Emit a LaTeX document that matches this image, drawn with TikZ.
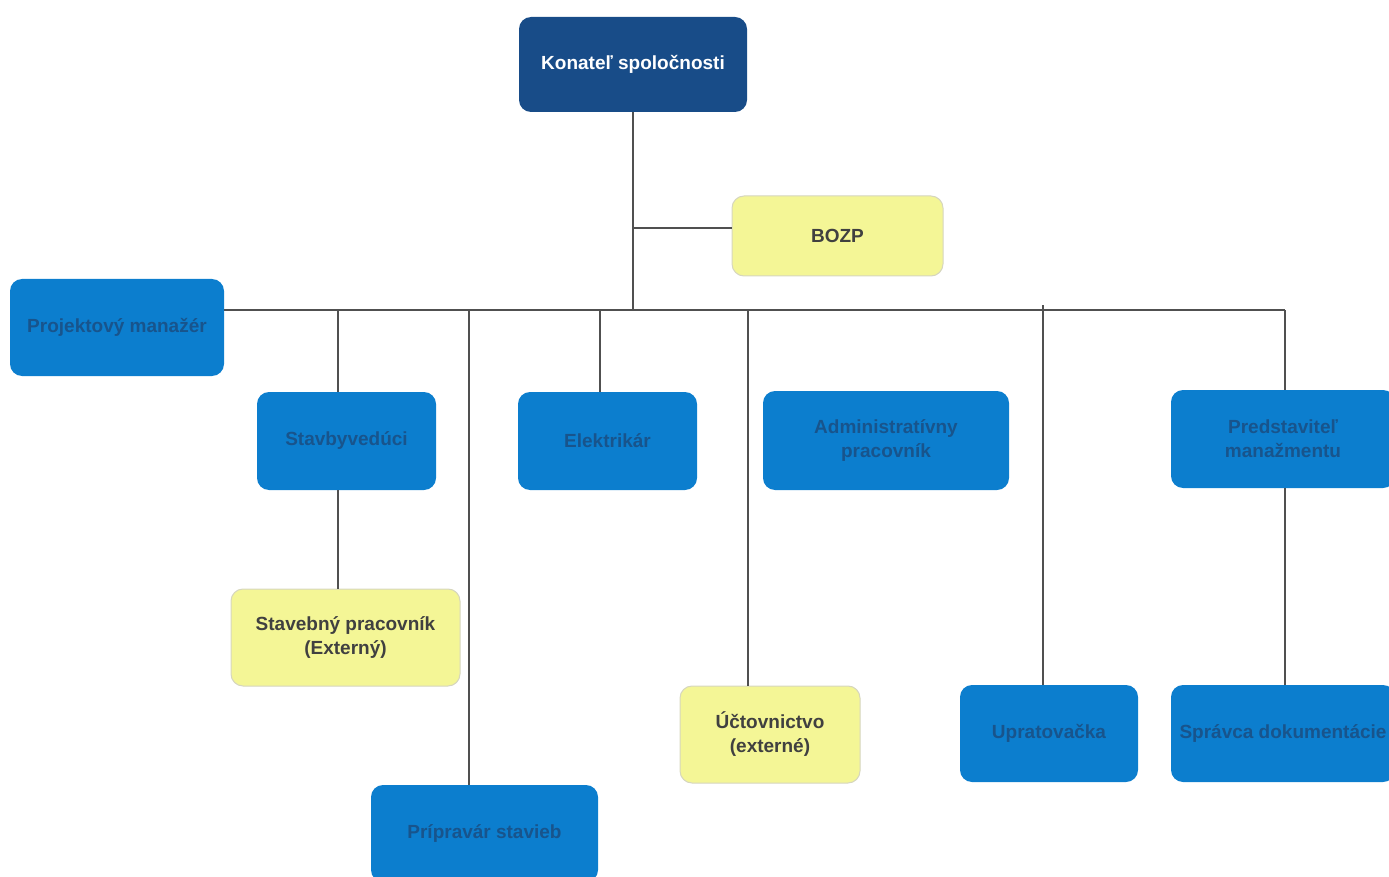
\documentclass[tikz,border=0pt]{standalone}
\usepackage{fontspec}
\setmainfont{Liberation Sans}
\definecolor{navy}{RGB}{24,76,136}
\definecolor{bluefill}{RGB}{12,126,206}
\definecolor{bluetext}{RGB}{24,84,140}
\definecolor{yellowfill}{RGB}{244,246,150}
\definecolor{yellowedge}{RGB}{214,214,190}
\definecolor{linegray}{RGB}{80,80,80}
\begin{document}
\begin{tikzpicture}[x=1pt,y=-1pt,
  base/.style={rounded corners=12pt, align=center, inner sep=2pt,
    font=\fontsize{19}{24}\selectfont\bfseries},
  topbox/.style={base, fill=navy, text=white},
  bluebox/.style={base, fill=bluefill, text=bluetext},
  yellowbox/.style={base, fill=yellowfill, draw=yellowedge, line width=1pt, text=black!75},
  conn/.style={draw=linegray, line width=1.3pt}]
\useasboundingbox (0,0) rectangle (1389,877);
\clip (0,0) rectangle (1389,877);
% nodes
\node[topbox, minimum width=228pt, minimum height=95pt] (k) at (633,64.5) {Konateľ spoločnosti};
\node[yellowbox, minimum width=211pt, minimum height=80pt] (bozp) at (837.5,236) {BOZP};
\node[bluebox, minimum width=214pt, minimum height=97pt] (pm) at (117,327.5) {Projektový manažér};
\node[bluebox, minimum width=179pt, minimum height=98pt] (sv) at (346.5,441) {Stavbyvedúci};
\node[bluebox, minimum width=179pt, minimum height=98pt] (el) at (607.5,441) {Elektrikár};
\node[bluebox, minimum width=246pt, minimum height=99pt] (ad) at (886,440.5) {Administratívny\\pracovník};
\node[bluebox, minimum width=224pt, minimum height=98pt] (pr) at (1283,439) {Predstaviteľ\\manažmentu};
\node[yellowbox, minimum width=229pt, minimum height=97pt] (sp) at (345.5,637.5) {Stavebný pracovník\\(Externý)};
\node[yellowbox, minimum width=180pt, minimum height=97pt] (uc) at (770,734.5) {Účtovnictvo\\(externé)};
\node[bluebox, minimum width=178pt, minimum height=97pt] (up) at (1049,733.5) {Upratovačka};
\node[bluebox, minimum width=224pt, minimum height=97pt] (sd) at (1283,733.5) {Správca dokumentácie};
\node[bluebox, minimum width=227pt, minimum height=97pt] (pp) at (484.5,833.5) {Prípravár stavieb};
% junction points
\coordinate (j) at (633,310);
\coordinate (b) at (633,228);
\coordinate (d1) at (338,310);
\coordinate (d2) at (469,310);
\coordinate (d3) at (600,310);
\coordinate (d4) at (748,310);
\coordinate (d5) at (1043,305);
\coordinate (d6) at (1285,310);
% connectors
\draw[conn] (k.south) -- (j);
\draw[conn] (b) -- (b -| bozp.west);
\draw[conn] (pm.east |- j) -- (d6);
\draw[conn] (d1) -- (d1 |- sv.north);
\draw[conn] (d1 |- sv.south) -- (d1 |- sp.north);
\draw[conn] (d2) -- (d2 |- pp.north);
\draw[conn] (d3) -- (d3 |- el.north);
\draw[conn] (d4) -- (d4 |- uc.north);
\draw[conn] (d5) -- (d5 |- up.north);
\draw[conn] (d6) -- (d6 |- pr.north);
\draw[conn] (d6 |- pr.south) -- (d6 |- sd.north);
\end{tikzpicture}
\end{document}
